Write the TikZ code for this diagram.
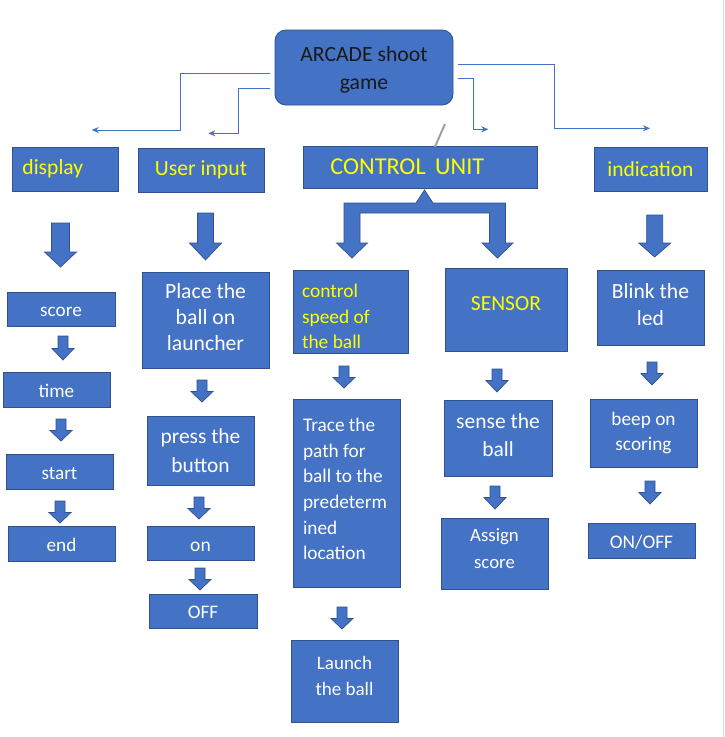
\documentclass[tikz,border=0pt]{standalone}
\usepackage{fontspec}
\setmainfont{Carlito}
\usetikzlibrary{arrows.meta}
\definecolor{boxblue}{HTML}{4472C4}
\definecolor{boxedge}{HTML}{2F528F}
\definecolor{ytext}{HTML}{FFFF00}
\newcommand\fsz[2]{\fontsize{#1}{#2}\selectfont}
\newcommand\bldarrow[6]{%
  \filldraw[barrow] ({#1-#5/2},#2) -- ({#1+#5/2},#2) -- ({#1+#5/2},#3) -- ({#1+#6/2},#3) -- (#1,#4) -- ({#1-#6/2},#3) -- ({#1-#5/2},#3) -- cycle;}
% centred text box: #1 box opts, #2 name, #3 cx, #4 cy, #5 w, #6 h, #7 text opts, #8 text
\newcommand\cbox[8]{%
  \node[box, minimum width=#5pt, minimum height=#6pt, #1] (#2) at (#3,#4) {};
  \node[txt, align=center, #7] (#2-t) at (#2.center) {#8};}
% left-aligned text box: #7 text opts incl. xshift
\newcommand\lbox[8]{%
  \node[box, minimum width=#5pt, minimum height=#6pt, #1] (#2) at (#3,#4) {};
  \node[txt, align=left, anchor=west, #7] (#2-t) at (#2.west) {#8};}
\tikzset{
  box/.style={draw=boxedge, fill=boxblue, line width=0.9pt, inner sep=0pt},
  txt/.style={inner sep=0pt, text=white},
  ytxt/.style={txt, text=ytext},
  conn/.style={draw=boxblue, line width=0.8pt, -{Stealth[length=7pt,width=6pt]}},
  barrow/.style={fill=boxblue, draw=boxedge, line width=0.7pt, line join=miter},
}
\begin{document}
\begin{tikzpicture}[x=1pt,y=-1pt]
\useasboundingbox (0,0) rectangle (725,737);
\fill[white] (0,0) rectangle (725,737);
\draw[black!15, line width=0.8pt] (723.5,0) -- (723.5,737);

% top node
\cbox{rounded corners=11pt}{arcade}{364}{67.5}{178}{75}{text=black!90, font=\fsz{21.7}{28}, yshift=-2pt}{ARCADE shoot\\game}

% second row
\lbox{}{display}{65}{169}{106}{44}{ytxt, font=\fsz{21.6}{26}, xshift=10.7pt}{display}
\cbox{}{userinput}{201}{170}{126}{44}{ytxt, font=\fsz{21.7}{26}}{User input}
\lbox{}{control}{420}{167}{234}{42}{ytxt, font=\fsz{24.2}{29}, xshift=27.7pt}{CONTROL\hspace{4pt} UNIT}
\cbox{}{indication}{650.5}{169}{113}{44}{ytxt, font=\fsz{21.5}{26}}{indication}

% connectors
\coordinate (k1) at (180.7,130);
\coordinate (e1) at (91.7,130);
\coordinate (k2) at (238.3,133.3);
\coordinate (e2) at (208.3,133.3);
\coordinate (k3) at (554.3,128.3);
\coordinate (e3) at (650,128.3);
\coordinate (k4) at (473.3,129.3);
\coordinate (e4) at (488.3,129.3);
\draw[conn] ([xshift=-5pt,yshift=-5.8pt]arcade.west) -| (k1) -- (e1);
\draw[conn] ([xshift=-5pt,yshift=-20.8pt]arcade.west) -| (k2) -- (e2);
\draw[conn] ([xshift=5pt,yshift=3.2pt]arcade.east) -| (k3) -- (e3);
\draw[conn] ([xshift=5pt,yshift=-10.8pt]arcade.east) -| (k4) -- (e4);

% stray pen mark
\draw[gray!75, line width=2pt] (445,124) -- (435,146.7);

% display column
\cbox{}{score}{61}{309}{108}{34}{font=\fsz{19.2}{24}, yshift=-3pt}{score}
\cbox{}{time}{56.5}{389.5}{107}{35}{font=\fsz{19.2}{24}, yshift=-1.5pt}{time}
\cbox{}{start}{59.5}{471.5}{107}{35}{font=\fsz{19.2}{24}, yshift=-2pt}{start}
\cbox{}{end}{61.5}{543.5}{107}{35}{font=\fsz{19.2}{24}, yshift=-1pt}{end}

% user input column
\cbox{}{place}{205.5}{320}{127}{96}{font=\fsz{21.7}{26}, yshift=2.5pt}{Place the\\ball on\\launcher}
\cbox{}{press}{200.5}{450.5}{107}{69}{font=\fsz{21.4}{29}}{press the\\button}
\cbox{}{on}{200.5}{543}{107}{34}{font=\fsz{19.5}{24}, yshift=-4pt}{on}
\cbox{}{off}{203}{611}{108}{34}{font=\fsz{19.2}{24}, yshift=-1pt}{OFF}

% control column
\lbox{}{speed}{350.5}{311.5}{115}{83}{ytxt, font=\fsz{19.4}{25.3}, xshift=9.3pt, yshift=-5pt}{control\\speed of\\the ball}
\lbox{}{trace}{346.5}{493}{107}{188}{font=\fsz{19.3}{25.6}, xshift=10.3pt, yshift=4pt}{Trace the\\path for\\ball to the\\predeterm\\ined\\location}
\cbox{}{launch}{344.5}{681}{107}{82}{font=\fsz{19}{26.7}, yshift=5pt}{Launch\\the ball}

% sensor column
\cbox{}{sensor}{506}{309.5}{122}{83}{ytxt, font=\fsz{21.5}{26}, yshift=6pt}{SENSOR}
\cbox{}{sense}{498}{438}{108}{76}{font=\fsz{21.5}{28}, yshift=3pt}{sense the\\ball}
\cbox{}{assign}{494.5}{553.5}{107}{71}{font=\fsz{18.8}{27}, yshift=4.5pt}{Assign\\score}

% indication column
\cbox{}{blink}{650.5}{307.5}{107}{75}{font=\fsz{21.6}{27.3}, yshift=3pt}{Blink the\\led}
\cbox{}{beep}{643.5}{433}{107}{68}{font=\fsz{19.3}{25}}{beep on\\scoring}
\cbox{}{onoff}{641.5}{540.5}{107}{35}{font=\fsz{19.3}{24}, yshift=-1.5pt}{ON/OFF}

% big block arrows
\bldarrow{60.5}{223}{252}{267}{18}{32}
\bldarrow{205.5}{213}{243}{260}{16}{32}
\bldarrow{654.7}{215}{243}{257}{16}{32}

% control unit split arrow
\filldraw[barrow] (344,203) -- (416,203) -- (424.5,190) -- (433,203) -- (505.5,203) -- (505.5,243) -- (513,243) -- (497.5,258) -- (482,243) -- (489.5,243) -- (489.5,213) -- (360,213) -- (360,243) -- (367.5,243) -- (352,258) -- (336.5,243) -- (344,243) -- cycle;

% small arrows
\bldarrow{63}{336}{348.5}{360}{10}{22}
\bldarrow{61}{419}{430.5}{441}{10}{22}
\bldarrow{60}{501}{512.5}{523}{10}{22}
\bldarrow{202}{380}{391.5}{402}{10}{22}
\bldarrow{199}{497}{508.5}{519}{10}{22}
\bldarrow{200}{568}{579.5}{590}{10}{22}
\bldarrow{344}{366}{377.5}{388}{10}{22}
\bldarrow{342}{607}{618.5}{629}{10}{22}
\bldarrow{497}{369}{380.5}{392}{10}{22}
\bldarrow{495}{486}{497.5}{509}{10}{22}
\bldarrow{652}{362}{373.5}{385}{10}{22}
\bldarrow{650}{481}{492.5}{504}{10}{22}
\end{tikzpicture}
\end{document}
